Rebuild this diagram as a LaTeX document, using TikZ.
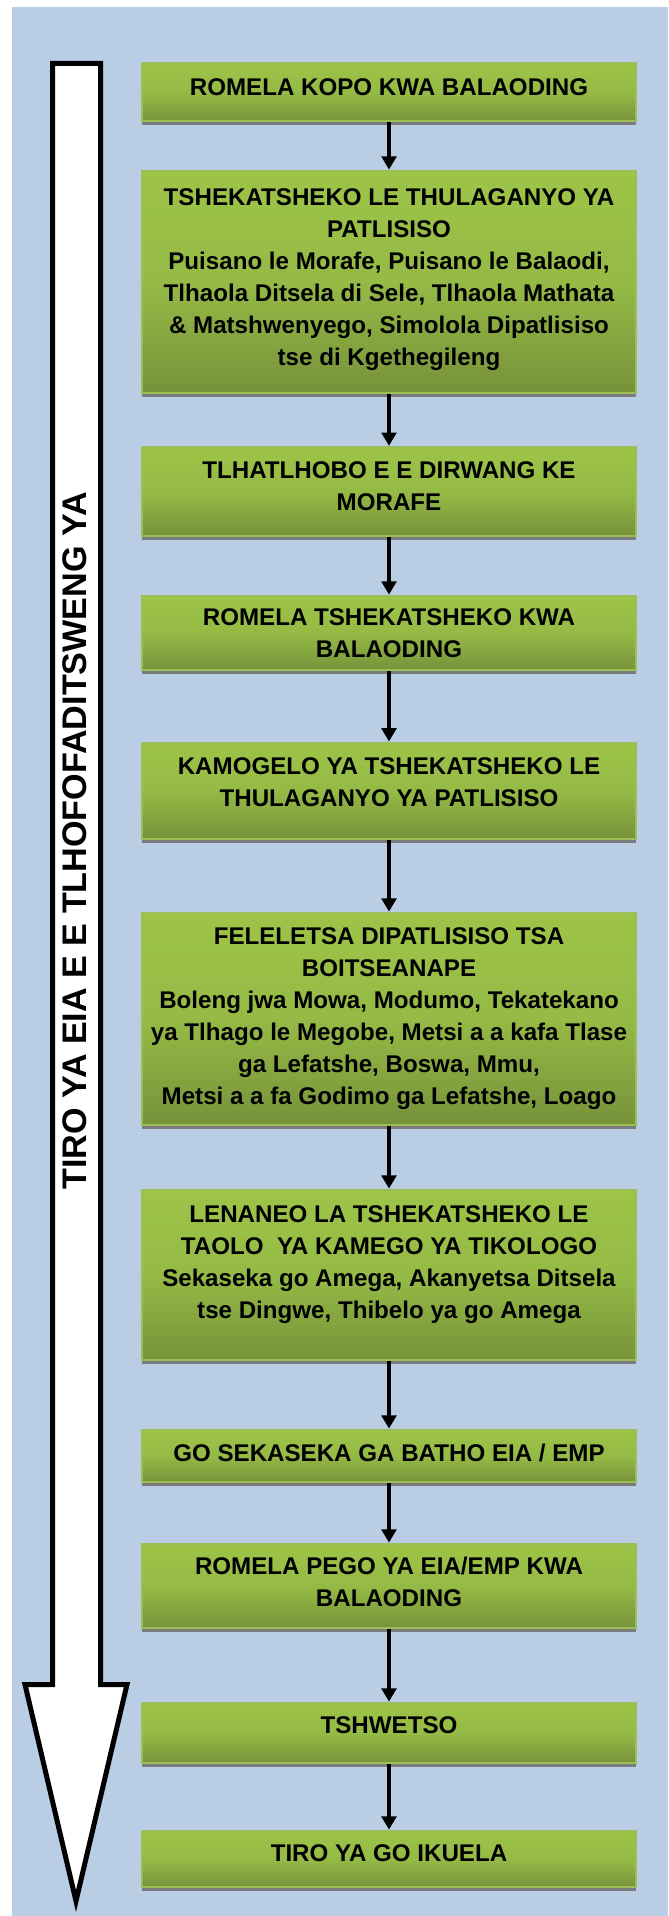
\documentclass[tikz,border=0pt]{standalone}
\usepackage{fontspec}
\setmainfont{Liberation Sans}
\usetikzlibrary{arrows.meta,shadows,positioning}
\definecolor{bgblue}{RGB}{185,205,229}
\definecolor{stepgreen}{RGB}{157,196,72}
\definecolor{stepdark}{RGB}{118,146,58}
\definecolor{stepedge}{RGB}{155,190,85}

\begin{document}
\begin{tikzpicture}[x=0.75pt, y=-0.75pt,
  box/.style={draw=stepedge, line width=1.5pt, top color=stepgreen, bottom color=stepdark,
    middle color=stepgreen!80!stepdark, minimum width=370.5pt, align=center,
    font=\bfseries\fontsize{18.1}{24}\selectfont,
    drop shadow={shadow xshift=0pt, shadow yshift=-3pt, fill=black!55, opacity=0.9}},
  nudge/.style={execute at end node={\rule[-#1]{0pt}{0pt}}},
  arr/.style={-{Triangle[width=11pt,length=10pt]}, line width=3.6pt, black},
  bigarrow/.style={draw=black, line width=3.75pt, fill=white, miter limit=10}
]
  \useasboundingbox (0,0) rectangle (668,1916);
  \fill[bgblue] (12,7) rectangle (668,1916);

  % process arrow on the left
  \draw[bigarrow] (52.5,63.5) -- (100.5,63.5) -- (100.5,1684.5) -- (127,1684.5)
    -- (76,1901) -- (25,1684.5) -- (52.5,1684.5) -- cycle;
  \node[rotate=90, font=\bfseries\fontsize{25.6}{30}\selectfont] (tiro) at (74.5,841)
    {TIRO YA EIA E E TLHOFOFADITSWENG YA};

  % steps
  \node[box, nudge=7.5pt, minimum height=44pt] (kopo) at (389,92) {ROMELA KOPO KWA BALAODING};
  \node[box, nudge=7.5pt, minimum height=167pt] (thulaganyo) at (389,282)
    {TSHEKATSHEKO LE THULAGANYO YA\\PATLISISO\\Puisano le Morafe, Puisano le Balaodi,\\
     Tlhaola Ditsela di Sele, Tlhaola Mathata\\\& Matshwenyego, Simolola Dipatlisiso\\
     tse di Kgethegileng};
  \node[box, nudge=8.2pt, minimum height=67pt] (tlhatlhobo) at (389,491.5)
    {TLHATLHOBO E E DIRWANG KE\\MORAFE};
  \node[box, minimum height=56pt] (romela) at (389,633)
    {ROMELA TSHEKATSHEKO KWA\\BALAODING};
  \node[box, nudge=12pt, minimum height=72pt] (kamogelo) at (389,790.5)
    {KAMOGELO YA TSHEKATSHEKO LE\\THULAGANYO YA PATLISISO};
  \node[box, minimum height=159.5pt] (feleletsa) at (389,1019)
    {FELELETSA DIPATLISISO TSA\\BOITSEANAPE\\Boleng jwa Mowa, Modumo, Tekatekano\\
     ya Tlhago le Megobe, Metsi a a kafa Tlase\\ga Lefatshe, Boswa, Mmu,\\
     Metsi a a fa Godimo ga Lefatshe, Loago};
  \node[box, nudge=19.6pt, minimum height=128pt] (lenaneo) at (389,1275)
    {LENANEO LA TSHEKATSHEKO LE\\TAOLO~ YA KAMEGO YA TIKOLOGO\\
     Sekaseka go Amega, Akanyetsa Ditsela\\tse Dingwe, Thibelo ya go Amega};
  \node[box, nudge=4.5pt, minimum height=39.5pt] (sekaseka) at (389,1456)
    {GO SEKASEKA GA BATHO EIA / EMP};
  \node[box, nudge=6pt, minimum height=63.5pt] (pego) at (389,1586)
    {ROMELA PEGO YA EIA/EMP KWA\\BALAODING};
  \node[box, nudge=12pt, minimum height=45.5pt] (tshwetso) at (389,1733) {TSHWETSO};
  \node[box, nudge=9pt, minimum height=42.5pt] (ikuela) at (389,1859) {TIRO YA GO IKUELA};

  \foreach \a/\b in {kopo/thulaganyo, thulaganyo/tlhatlhobo, tlhatlhobo/romela,
      romela/kamogelo, kamogelo/feleletsa, feleletsa/lenaneo, lenaneo/sekaseka,
      sekaseka/pego, pego/tshwetso, tshwetso/ikuela}
    \draw[arr] (\a) -- (\b);
\end{tikzpicture}
\end{document}
